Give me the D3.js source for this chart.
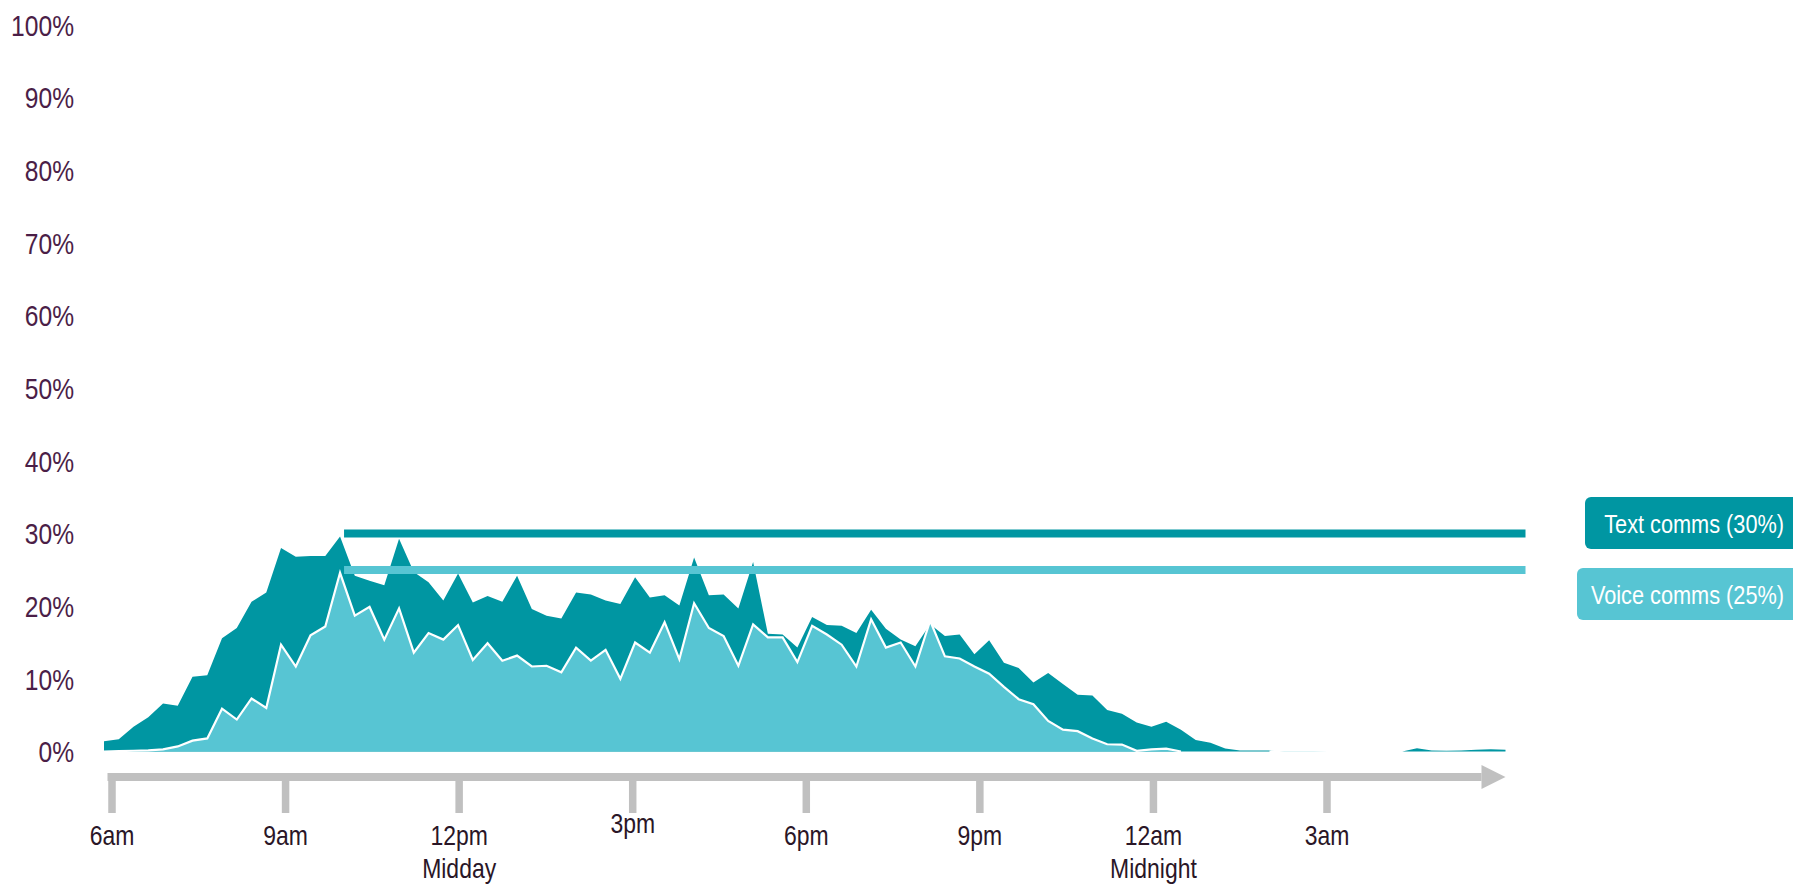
<!DOCTYPE html>
<html>
<head>
<meta charset="utf-8">
<script src="https://cdn.jsdelivr.net/npm/d3@7"></script>
<style>
  html, body { margin: 0; padding: 0; background: #ffffff; }
  svg { display: block; }
  text { font-family: "Liberation Sans Narrow", "Arial Narrow", "Liberation Sans", Arial, sans-serif; }
</style>
</head>
<body>
<svg id="chart" width="1793" height="886"></svg>
<script>
// ---------------- DATA ----------------
// 15-minute intervals from 6:00am to 5:45am next day (hour values)
const startHour = 6;
const stepHours = 0.25;

// Share of text communications (%) per 15-minute slot
const textComms = [
  1.4, 1.7, 3.4, 4.7, 6.6, 6.3, 10.3, 10.5, 15.6, 17.0, 20.6, 21.9,
  28.0, 26.8, 26.9, 26.9, 29.6, 24.2, 23.5, 22.9, 29.3, 24.7, 23.3, 20.8,
  24.5, 20.5, 21.4, 20.6, 24.2, 19.6, 18.7, 18.3, 21.9, 21.6, 20.8, 20.3,
  24.0, 21.2, 21.5, 20.1, 26.7, 21.5, 21.6, 19.7, 26.1, 16.2, 16.1, 14.3,
  18.5, 17.4, 17.3, 16.3, 19.5, 16.9, 15.4, 14.5, 17.5, 15.9, 16.1, 13.4,
  15.3, 12.2, 11.5, 9.5, 10.8, 9.3, 7.8, 7.7, 5.7, 5.2, 4.0, 3.4,
  4.1, 3.0, 1.6, 1.2, 0.4, 0.15, 0.15, 0.15, 0.05, 0.05, 0.05, 0.02,
  0, 0, 0, 0, 0, 0.45, 0.15, 0.1, 0.15, 0.25, 0.3, 0.25
];

// Share of voice communications (%) per 15-minute slot
const voiceComms = [
  0, 0.05, 0.1, 0.15, 0.3, 0.7, 1.5, 1.8, 5.9, 4.4, 7.3, 6.0,
  14.7, 11.7, 16.0, 17.2, 24.6, 18.7, 19.9, 15.4, 19.7, 13.6, 16.3, 15.4,
  17.4, 12.6, 14.9, 12.5, 13.2, 11.7, 11.8, 10.9, 14.3, 12.5, 14.0, 10.0,
  15.0, 13.6, 17.8, 12.7, 20.4, 17.0, 15.9, 11.8, 17.5, 15.7, 15.7, 12.3,
  17.3, 16.1, 14.7, 11.7, 18.2, 14.3, 15.0, 11.7, 18.0, 13.1, 12.8, 11.7,
  10.7, 8.9, 7.2, 6.5, 4.2, 3.0, 2.8, 1.8, 1.0, 0.95, 0.1, 0.3,
  0.4, 0, 0, 0, 0, 0, 0, 0, 0.12, 0.15, 0.12, 0.08,
  0, 0, 0, 0, 0, 0, 0, 0, 0, 0, 0, 0
];

// Reference (peak) lines
const refValues = [30, 25];
const refLabels = ["Text comms (30%)", "Voice comms (25%)"];
const refStartHour = 10;

// Y axis ticks
const yTicks = [0, 10, 20, 30, 40, 50, 60, 70, 80, 90, 100];
const yTickLabels = ["0%", "10%", "20%", "30%", "40%", "50%", "60%", "70%", "80%", "90%", "100%"];

// X axis ticks (hours since midnight of day one)
const xTickHours = [6, 9, 12, 15, 18, 21, 24, 27];
const xTickLabels = ["6am", "9am", "12pm", "3pm", "6pm", "9pm", "12am", "3am"];
const xTickSubLabels = ["", "", "Midday", "", "", "", "Midnight", ""];

// ---------------- STYLE ----------------
const COL_TEXT = "#0096a2";
const COL_VOICE = "#57c5d3";
const COL_YLAB = "#4b1e47";
const COL_XLAB = "#2a1627";
const COL_AXIS = "#c0c0c0";
const NARROW = 0.82; // horizontal condensing to mimic a narrow typeface

// ---------------- SCALES ----------------
const svg = d3.select("#chart");
const hours = textComms.map((_, i) => startHour + i * stepHours);

const x = d3.scaleLinear()
  .domain([hours[0], hours[hours.length - 1]])
  .range([104, 1505.5]);

const y = d3.scaleLinear()
  .domain([0, 100])
  .range([751.5, 25]);

// the drawn time arrow is laid out slightly differently from the data
const xAxis = d3.scaleLinear()
  .domain([6, 27])
  .range([112, 1327]);

// ---------------- AREAS ----------------
const textData = hours.map((h, i) => ({ h, v: textComms[i] }));
const voiceData = hours.map((h, i) => ({ h, v: voiceComms[i] }));

const area = d3.area()
  .x(d => x(d.h))
  .y0(y(0))
  .y1(d => y(d.v));

svg.append("path")
  .datum(textData)
  .attr("d", area)
  .attr("fill", COL_TEXT);

svg.append("path")
  .datum(voiceData)
  .attr("d", area)
  .attr("fill", COL_VOICE);

const voiceLine = d3.line()
  .defined((d, i) => voiceComms[i] > 0 || (voiceComms[i - 1] || 0) > 0 || (voiceComms[i + 1] || 0) > 0)
  .x(d => x(d.h))
  .y(d => y(d.v));

svg.append("path")
  .datum(voiceData)
  .attr("d", voiceLine)
  .attr("fill", "none")
  .attr("stroke", "#ffffff")
  .attr("stroke-width", 2.2)
  .attr("stroke-linejoin", "miter");

// ---------------- REFERENCE LINES ----------------
const refColors = [COL_TEXT, COL_VOICE];
refValues.forEach((v, k) => {
  svg.append("line")
    .attr("x1", x(refStartHour) + 4)
    .attr("x2", x.range()[1] + 20)
    .attr("y1", y(v))
    .attr("y2", y(v))
    .attr("stroke", refColors[k])
    .attr("stroke-width", 8);
});

// label boxes
const boxLeft = [1585, 1577];
const boxTop = [497, 568];
refLabels.forEach((lab, k) => {
  svg.append("rect")
    .attr("x", boxLeft[k])
    .attr("y", boxTop[k])
    .attr("width", 240)
    .attr("height", 52)
    .attr("rx", 6)
    .attr("fill", refColors[k]);
  svg.append("text")
    .attr("transform", `translate(1784,${boxTop[k] + 35.5}) scale(${NARROW},1)`)
    .attr("text-anchor", "end")
    .attr("fill", "#ffffff")
    .attr("font-size", 26.5)
    .text(lab);
});

// ---------------- Y AXIS LABELS ----------------
svg.append("g")
  .selectAll("text")
  .data(yTicks)
  .join("text")
  .attr("transform", d => `translate(74,${y(d)}) scale(${NARROW},1)`)
  .attr("dy", "0.36em")
  .attr("text-anchor", "end")
  .attr("fill", COL_YLAB)
  .attr("font-size", 30)
  .text((d, i) => yTickLabels[i]);

// ---------------- X AXIS (arrow) ----------------
const axisY = 777;
const axisLeft = xAxis(6) - 4.5;
const axisTip = x.range()[1];
svg.append("rect")
  .attr("x", axisLeft)
  .attr("y", axisY - 4)
  .attr("width", axisTip - 24 - axisLeft)
  .attr("height", 8)
  .attr("fill", COL_AXIS);
svg.append("path")
  .attr("d", `M${axisTip - 24},${axisY - 12} L${axisTip},${axisY} L${axisTip - 24},${axisY + 12} Z`)
  .attr("fill", COL_AXIS);

const tickG = svg.append("g")
  .selectAll("g")
  .data(xTickHours)
  .join("g")
  .attr("transform", d => `translate(${xAxis(d)},0)`);

tickG.append("rect")
  .attr("x", -3.75)
  .attr("y", axisY)
  .attr("width", 7.5)
  .attr("height", 36)
  .attr("fill", COL_AXIS);

tickG.append("text")
  .attr("transform", (d, i) => `translate(0,${xTickLabels[i] === "3pm" ? 833 : 845}) scale(${NARROW},1)`)
  .attr("text-anchor", "middle")
  .attr("fill", COL_XLAB)
  .attr("font-size", 28)
  .text((d, i) => xTickLabels[i]);

tickG.append("text")
  .attr("transform", `translate(0,878) scale(${NARROW},1)`)
  .attr("text-anchor", "middle")
  .attr("fill", COL_XLAB)
  .attr("font-size", 28)
  .text((d, i) => xTickSubLabels[i]);
</script>
</body>
</html>
